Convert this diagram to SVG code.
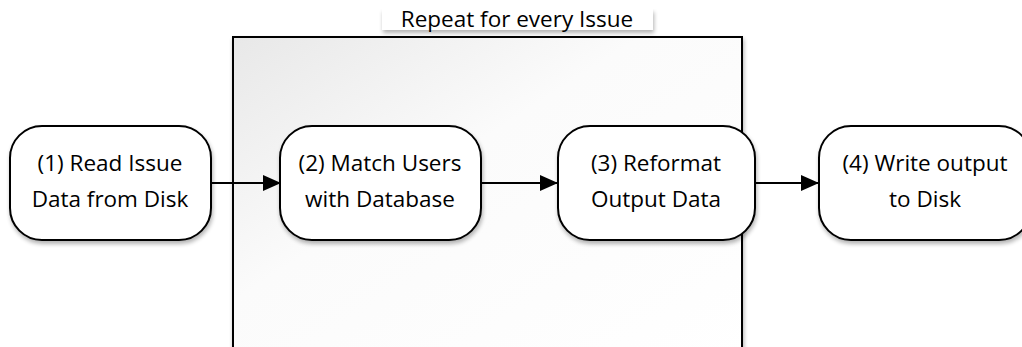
<svg xmlns="http://www.w3.org/2000/svg" width="1022" height="347" viewBox="0 0 1022 347">
<defs>
<linearGradient id="bg" x1="0" y1="0" x2="1" y2="1">
<stop offset="0" stop-color="#e8e8e8"/>
<stop offset="0.4" stop-color="#fbfbfb"/>
<stop offset="1" stop-color="#ffffff"/>
</linearGradient>
<filter id="sh" x="-10%" y="-10%" width="130%" height="140%">
<feGaussianBlur in="SourceAlpha" stdDeviation="2"/>
<feOffset dx="1" dy="3"/>
<feComponentTransfer><feFuncA type="linear" slope="0.3"/></feComponentTransfer>
<feMerge><feMergeNode/><feMergeNode in="SourceGraphic"/></feMerge>
</filter>
<marker id="ah" markerWidth="18" markerHeight="16" refX="18" refY="8" orient="auto" markerUnits="userSpaceOnUse" viewBox="0 0 18 16">
<path d="M0,0 L18,8 L0,16 z" fill="#000"/>
</marker>
</defs>
<style>
.node{fill:#fff;stroke:#000;stroke-width:2}
.t{font-family:"Open Sans","Liberation Sans",sans-serif;font-size:22.5px;fill:#000;text-anchor:middle}
.c{stroke:#000;stroke-width:2;fill:none}
</style>
<rect width="1022" height="347" fill="#fff"/>
<g id="loop">
<rect x="233" y="37" width="509" height="330" fill="url(#bg)" stroke="#000" stroke-width="2" filter="url(#sh)"/>
<rect x="382" y="9" width="271" height="21" fill="#fff" filter="url(#sh)"/>
<text class="t" x="517" y="27">Repeat for every Issue</text>
</g>
<g id="n1">
<rect class="node" x="10" y="126" width="201" height="114" rx="32" filter="url(#sh)"/>
<text class="t" x="110" y="171">(1) Read Issue</text>
<text class="t" x="110" y="207">Data from Disk</text>
</g>
<g id="n2">
<rect class="node" x="280" y="126" width="201" height="114" rx="32" filter="url(#sh)"/>
<text class="t" x="380" y="171">(2) Match Users</text>
<text class="t" x="380" y="207">with Database</text>
</g>
<g id="n3">
<rect class="node" x="558" y="126" width="197" height="114" rx="32" filter="url(#sh)"/>
<text class="t" x="656" y="171">(3) Reformat</text>
<text class="t" x="656" y="207">Output Data</text>
</g>
<g id="n4">
<rect class="node" x="819" y="126" width="212" height="114" rx="32" filter="url(#sh)"/>
<text class="t" x="925" y="171">(4) Write output</text>
<text class="t" x="925" y="207">to Disk</text>
</g>
<g id="connectors">
<line class="c" x1="211" y1="183" x2="281" y2="183" marker-end="url(#ah)"/>
<line class="c" x1="481" y1="183" x2="558" y2="183" marker-end="url(#ah)"/>
<line class="c" x1="755" y1="183" x2="819" y2="183" marker-end="url(#ah)"/>
</g>
</svg>
